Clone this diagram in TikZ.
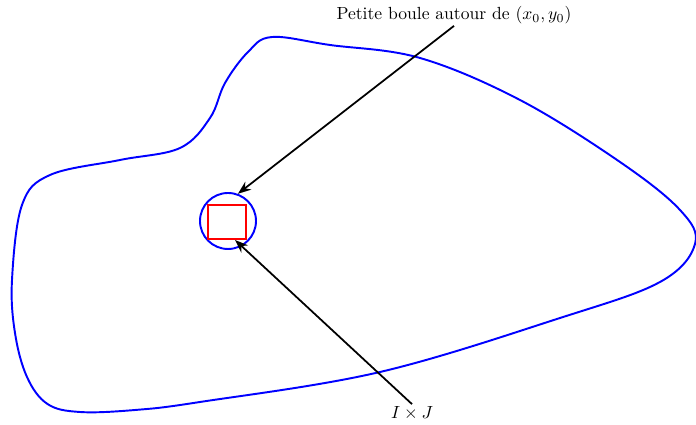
\documentclass[tikz,border=0pt]{standalone}
\usepackage{amsmath}
\usetikzlibrary{arrows.meta,calc}
\begin{document}
\begin{tikzpicture}[>=Stealth,region/.style={blue,line width=1.1pt},ball/.style={circle,draw=blue,line width=1.1pt,minimum size=1.12cm,inner sep=0pt},pave/.style={rectangle,draw=red,line width=1.1pt,minimum width=0.76cm,minimum height=0.68cm,inner sep=0pt},arrow/.style={->,line width=1pt},lbl/.style={inner sep=1pt}]
\useasboundingbox (0,0) rectangle (13.92,8.5);
\draw[region] plot[smooth cycle,tension=0.6] coordinates {(5.44,7.76) (6.60,7.60) (8.40,7.34) (10.40,6.50) (12.40,5.26) (13.60,4.30) (13.90,3.62) (13.20,2.86) (11.20,2.14) (7.60,1.06) (4.00,0.46) (2.70,0.30) (1.60,0.26) (0.95,0.42) (0.54,0.96) (0.30,1.84) (0.24,2.90) (0.44,4.40) (1.00,5.00) (2.40,5.30) (3.60,5.54) (4.20,6.14) (4.50,6.84) (4.96,7.46)};
\node[ball] (boule) at (4.56,4.08) {}; \node[pave] (IJ) at (4.54,4.06) {};
\node[lbl] (lblboule) at (9.08,8.2) {Petite boule autour de $(x_0,y_0)$}; \node[lbl] (lblIJ) at (8.24,0.24) {$I\times J$};
\coordinate (pIJ) at (4.70,3.70);
\draw[arrow] (lblboule.south) -- (boule.70); \draw[arrow] (lblIJ.north) -- (pIJ);
\end{tikzpicture}
\end{document}
